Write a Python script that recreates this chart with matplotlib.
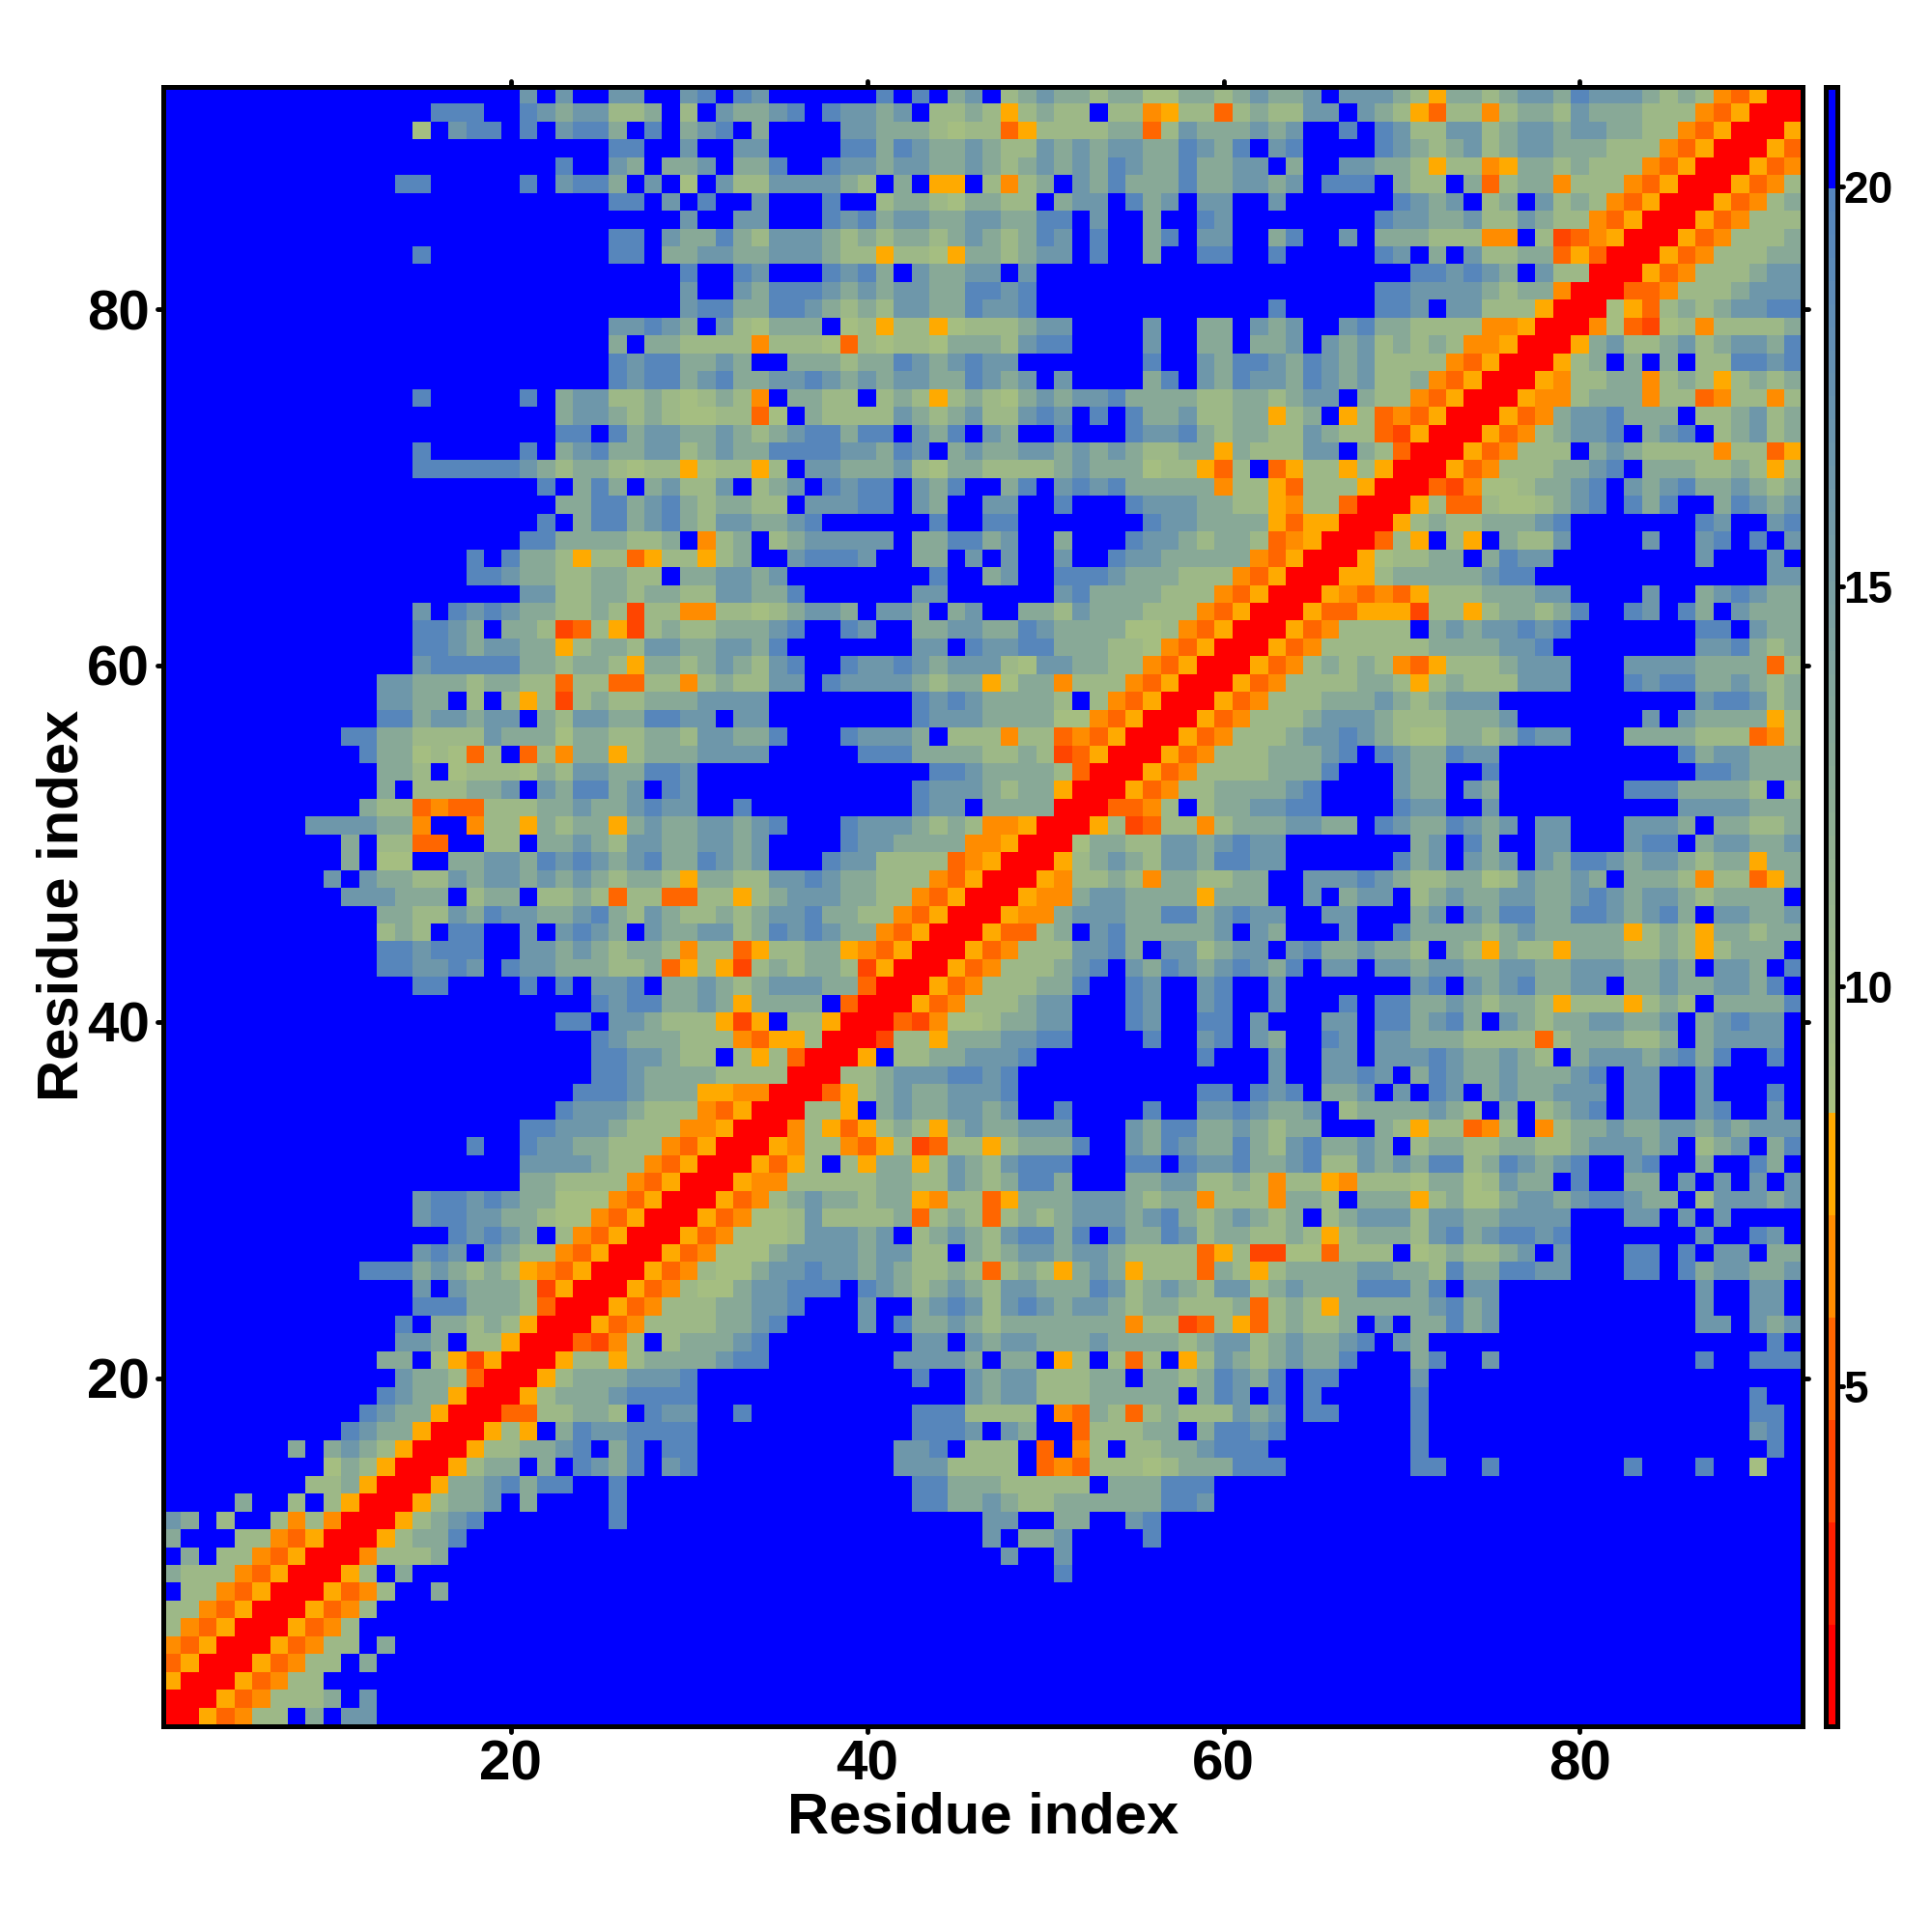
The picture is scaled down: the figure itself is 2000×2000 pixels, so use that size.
import numpy as np
import matplotlib
matplotlib.use('Agg')
import matplotlib.pyplot as plt
from matplotlib.colors import ListedColormap, BoundaryNorm, to_rgb
from matplotlib.markers import MarkerStyle

# distance map, one string per residue, top row of the picture first
# b = above 20, digits = 9 to 19 (greenish to steel blue), a/p/o/d/r = orange to red bands
ROWS = [
"bbbbbbbbbb bbbbbbbbbb 4b4bb44bb4 5b54bbbbbb 5b5b34b234 3323311332 34334b4443 2a33234435 4443232poa rr",
"bbbbbbbbbb bbbbb555bb 54344223b2 b43345b544 34b2232a23 22b22pa22o 232244b432 ao22p23324 333222poar rr",
"bbbbbbbbbb bbbb1b455b 5b4553b5b3 45b3bbbb44 3332122oa2 22233o2433 3434bb5b54 2244234434 43322poarr ra",
"bbbbbbbbbb bbbbbbbbbb bbbbb55bb4 bb44bbbb55 3543343224 3434433543 5b45bbbb54 3234234433 3222poarrr ao",
"bbbbbbbbbb bbbbbbbbbb bb5bb43b33 4b335bb544 3443343234 3435433533 44b3bb4433 2a22pa3323 222poarrra op",
"bbbbbbbbbb bbb55bbbbb 5b4553b4b1 b422444432 b3baab2p23 b435333533 4434b555b3 22b3o233p2 22poarrrao p2",
"bbbbbbbbbb bbbbbbbbbb bbbbb55b4b 5bb4bbb5bb 233213322b 344b534b44 bb4bbbbbb5 434b23b423 2poarrraop 23",
"bbbbbbbbbb bbbbbbbbbb bbbbbbbbb4 bb44bbb545 3443344335 5b4bb3bb54 bbbbbbbb54 4334224322 poarrraop2 22",
"bbbbbbbbbb bbbbbbbbbb bbbbb55b43 3532444323 2332343235 4b5bb35b44 bb35bb4b33 3222ppb2do parrraop22 23",
"bbbbbbbbbb bbbb5bbbbb bbbbb55b33 4433444322 a221a33234 4b5bb3bb55 bb5bbbbb54 b3b42233oa orrraop222 33",
"bbbbbbbbbb bbbbbbbbbb bbbbbbbbb5 bb54bbb545 3b43344b4b bbbbbbbbbb bbbbbbbbbb 554543b422 rrraop2223 44",
"bbbbbbbbbb bbbbbbbbbb bbbbbbbbb4 bb43555434 344335545b bbbbbbbbbb bbbbbbbb55 44443233pr rroop22234 44",
"bbbbbbbbbb bbbbbbbbbb bbbbbbbbb4 5533554323 244335445b bbbbbbbbbb bb5bbbbb55 4b44222arr r1ao232344 55",
"bbbbbbbbbb bbbbbbbbbb bbbbb44543 b421333b12 a22a122234 4bbbb4bb33 b434bb4533 2222pparrr p1od12p222 23",
"bbbbbbbbbb bbbbbbbbbb bbbbb3b332 222p2221o2 1221333245 5bbbb4bb33 b334b43423 232pparrra 3422342344 35",
"bbbbbbbbbb bbbbbbbbbb bbbbb54553 343bb33323 35434544bb bbbbb5bb43 5543543422 22poarrra2 3b3b3b2255 45",
"bbbbbbbbbb bbbbbbbbbb bbbbb54553 4533445434 344335434b 4bbbb35b43 5443543422 3poarrrap2 233p232a23 23",
"bbbbbbbbbb bbbb5bbbbb 5b34422321 232pb3322b 232a232134 3445333322 332344b322 poarrrapp2 333p22op22 p2",
"bbbbbbbbbb bbbbbbbbbb bb34432321 122o1b3222 2432342245 4b5b533422 33a23ba2op oarrraop34 45333b2234 23",
"bbbbbbbbbb bbbbbbbbbb bb55b53443 3432345535 5b435b43bb 5bbb544532 33224322od arrraop234 45b345b234 23",
"bbbbbbbbbb bbbb5bbbbb 5b34533442 3433555544 354b343344 343432233a 322244b32o rrraop222b 3432222p22 oa",
"bbbbbbbbbb bbbb555555 432332122a 122a2b4433 3421332222 34333122ao 2boa22a2ar rraop22233 45b3332232 a2",
"bbbbbbbbbb bbbbbbbbbb b5b353b342 24b234b545 5b435bb35b 454533333p 22ao222arr rodp112334 5b43453343 23",
"bbbbbbbbbb bbbbbbbbbb bb33553453 23322b4445 5b43bb44bb 5bbb544433 22ap22orrr a2oo211234 5b535bb354 34",
"bbbbbbbbbb bbbbbbbbbb b5b3553453 2443345bbb bbb5bb55bb bbbbb54433 33aoaarrra 232233345b bbbbbb54bb 45",
"bbbbbbbbbb bbbbbbbbbb 553333223b p23b234444 4b335534bb 3bbb544323 32oparrro2 ab2ab3224b bbb4bb45b5 b4",
"bbbbbbbbbb bbbbbbb5b5 332a22oa22 a23bb45554 bb33b4b4bb 4bb5443333 3poarrra12 233b3544bb bbbbbb4bbb 4b",
"bbbbbbbbbb bbbbbbb554 33223322b3 34434bbbbb bbb5bb34bb 5554333222 poarrraa23 3333455bbb bbbbbbbbbb 44",
"bbbbbbbbbb bbbbbbbbbb 4422332332 244335bbbb bb44bbbbbb 453333222p oarrrapopo a22233344b bbb4bb3454 33",
"bbbbbbbbbb bbbb4b5454 332232d22p p22123443b 443b34bb33 24333222po arrraooaaa d22a233235 bb54b53b43 33",
"bbbbbbbbbb bbbb5543b3 32do2ad232 233345bb54 bb33443354 3333112poa rrraop2222 b34344545b bbbbbb55b4 33",
"bbbbbbbbbb bbbb554344 33a2332443 34435bbbbb bb44b54455 333221poar rraop22222 23333445bb bbbbbb4453 23",
"bbbbbbbbbb bbbb455555 332332a332 343245bb54 4543444214 43322poarr raop23232p oa2223444b bb44443333 o2",
"bbbbbbbbbb bb44333233 22o22oo22p 232244b544 443233a133 p222poarrr aop2222332 a23222444b bb54553343 23",
"bbbbbbbbbb bb4433b2b2 a2d2322333 4444bbbbbb bb54543333 2b2poarrra op22233343 23444bbbbb bbbbbb4554 23",
"bbbbbbbbbb bb55344344 b324433554 4b44bbbbbb bb54443333 11poarrrao p222344432 223334bbbb bbb4b43333 a2",
"bbbbbbbbbb 5533222243 3313322332 44335bbb54 443b222p22 opoarrraop 2223445432 113323544b bb3333222o p2",
"bbbbbbbbbb b533121o2b o2p33a2333 4444bbbbb5 5533332232 doarrraop2 2233345b54 33544bbbbb bbbbb53443 33",
"bbbbbbbbbb bb332b1222 1324433554 bbbbbbbbbb bbb5543333 2orrraop22 223335bbb4 33bb5bbbbb bbbbbb5543 33",
"bbbbbbbbbb bb3b222334 b435534b54 bbbbbbbbbb bb54443233 arrraop223 33345bbbb4 33b43bbbbb bb55533332 b2",
"bbbbbbbbbb b322opoo22 2334334544 bb5bbbbbbb bb544b3333 rrroop2b23 34455bbbb5 44bb4bbbbb bbbbb44443 33",
"bbbbbbbb44 4433pbbp22 a3233a3433 44345bbb54 443232ppar rra2do22p2 3334433b54 335434b44b bb4443b332 23",
"bbbbbbbbbb 3b22oobb22 b334324433 4434bbbb54 43333pparr r133224434 544bbbbbbb 34b53bb44b bb455b3443 34",
"bbbbbbbbbb 3b11bb3344 3545434533 5434bbb544 2222oparrr a234324435 544bbbbbb5 34b434b435 543443233a 33",
"bbbbbbbbb4 b433224344 343432332a 3322445433 222poarrra p2232p3322 33bb444543 2233124334 3b3332p22o a3",
"bbbbbbbbbb 444333b233 b2232o22oo 22a2344433 22poarrrap p3443333a3 33bb4b344b 2343344334 5434432333 3b",
"bbbbbbbbbb bb33224354 4334532432 2323445332 2poarrrapp 3444335534 544bb44bbb 34b4355335 543453b443 34",
"bbbbbbbbbb bb232b55bb 4b4543b433 4423545433 poarrraoo2 3b45333334 b43bbb4bb5 3333234333 33a232a332 33",
"bbbbbbbbbb bb554555bb 443432332p 22oa2233ap oarrraop22 24453b4423 44b4533433 2b32a322a3 332232a233 3b",
"bbbbbbbbbb bb554454b5 44333223oa 2ad232332d arrraop222 345b435434 5435b44b44 3443344334 443343b443 b5",
"bbbbbbbbbb bbbb55bbbb 5b5b445b33 432344433o rrraop2223 35bb54bb45 bb4bbbbbbb 45b4345334 4b33433443 5b",
"bbbbbbbbbb bbbbbbbbbb bbbb545533 43a3333bor rraop22234 4bbb54bb45 bb4bbb5b55 33432332a2 22a232b333 35",
"bbbbbbbbbb bbbbbbbbbb bb55b44322 2adab22arr rodp112334 4bbb54bb55 b4bbb44b55 3453b43233 44334b3454 4b",
"bbbbbbbbbb bbbbbbbbbb bbbb543332 22poaa2rrr d22a333445 5bbbb5bb45 b43bb54b44 3332222o23 33223b3444 4b",
"bbbbbbbbbb bbbbbbbbbb bbbb554432 2b2a2orrra b22334445b bbbbbbbb5b bb4bb44b44 45433432b3 44434535bb 5b",
"bbbbbbbbbb bbbbbbbbbb bbbb554333 32222rrr22 34445545bb bbbbbbbbbb bb4bb4454b 3543343334 5b44bb4bbb bb",
"bbbbbbbbbb bbbbbbbbbb bbb5554333 aapprrroa2 34334445bb bbbbbbbb55 b545b334b4 b54b343344 4b44bb4bbb 5b",
"bbbbbbbbbb bbbbbbbbbb bb54443222 poarrr22ab 34334434bb 5bbbb5bb44 54334b2333 3432b3b234 5b44bb45bb 4b",
"bbbbbbbbbb bbbbbbbbbb 554443222p parrrp2aoa 232a343344 4bbb435533 43233bbb32 a22op2bp23 3433443434 44",
"bbbbbbbbbb bbbbbbb5bb 54433222po arrrap22po a2do22a233 35bb435433 532453343b 2332233223 44434b234b 35",
"bbbbbbbbbb bbbbbbbbbb 4444322poa rrraoa2b2a 33a2432455 5bbb55b544 5334522434 3552354345 bb45bb3bb5 3b",
"bbbbbbbbbb bbbbbbbbbb 332222poar rrapp22222 3322432355 3bbb334422 32p22ap222 13312433b5 bb33b4b4b4 b4",
"bbbbbbbbbb bbbb455454 33111poarr raop234332 33ap22oa33 34443233p2 22p332b333 a231134434 55433b2444 34",
"bbbbbbbbbb bbbb455443 3211poarrr aop1124222 23o232o232 3444345323 4323b23444 244334444b bb44b4b4bb bb",
"bbbbbbbbbb bbbbbb5454 3b2poarrra op11124443 4b23432455 35b5335423 32232a2333 245345545b bbbbbb4bb5 4b",
"bbbbbbbbbb bbbb454b43 22poarrrao p111344443 4422b32344 34432222oa 2dd11o222b 1232234b4b bb55b5b44b 33",
"bbbbbbbbbb b555343232 apoarrraop 2113445443 432232o232 a343a222o3 2a23333443 325335544b bb55b53443 34",
"bbbbbbbbbb bbbb4b4333 2darrraop2 11344555b5 4323432443 3354234324 4234333555 35b44bbbbb bbbbbb4bb4 4b",
"bbbbbbbbbb bbbb555333 2orrraop22 233445bbb4 bb34542454 3443233222 3o232a3333 34534bbbbb bbbbbb4bb4 4b",
"bbbbbbbbbb bbb5b33232 arrraop222 23345bbbb4 b533432333 3333p22do2 ao23223b4b 33534bbbbb bbbbbb44b4 34",
"bbbbbbbbbb bbb443b22a rrrodp2b23 3345bbbbbb bb44b43443 3343333234 42343345b4 3bbbbbbbbb bbbbbbbbbb 5b",
"bbbbbbbbbb bb33b2adar rra22a2333 3455bbbbbb b44443b33b a2b2o2ba24 3234335bbb 35bb4bbbbb bbbbbb5bb5 55",
"bbbbbbbbbb bbb4332orr ra23334445 bbbbbbbbbb bb5bb43442 2233b33235 435b55bbbb 4bbbbbbbbb bbbbbbbbbb bb",
"bbbbbbbbbb bb5433arrr a233345555 bbbbbbbbbb bbbbb43442 2233333b35 4b5b5bbbbb 5bbbbbbbbb bbbbbbbbb5 bb",
"bbbbbbbbbb b5433arrro o22332b544 bb5bbbbbbb bb5552222b po32o23222 434b55bbbb 5bbbbbbbbb bbbbbbbbb5 5b",
"bbbbbbbbbb 5433arrra2 ab35445555 bbbbbbbbbb bb5554b43b bo22233b35 545bbbbbbb 5bbbbbbbbb bbbbbbbbb4 5b",
"bbbbbbb3b3 432arrra22 3345b35b55 bbbbbbbbbb b445b222bo bp2b223345 55bbbbbbbb 5bbbbbbbbb bbbbbbbbbb 5b",
"bbbbbbbbb1 32arrra233 b3b5435b45 bbbbbbbbbb b4442222bo po22212333 555bbbbbbb 55bb5bbbbb bb5bbb5bb1 bb",
"bbbbbbbb22 3arrra3345 355bb5bbbb bbbbbbbbbb bb55333222 22b333555b",
"bbbb3bb2b2 arrra2334b 3bbbb5bbbb bbbbbbbbbb bb55334322 333333554b",
"43b2bb2p2p rrra2345bb bbbbb5bbbb bbbbbbbbbb bbbbbb44bb 33bb45bbbb",
"3bbb22poar rra2335bbb bbbbbbbbbb bbbbbbbbbb bbbbbb4b33 4bbbb5bbbb",
"b3b22poarr rp2223bbbb bbbbbbbbbb bbbbbbbbbb bbbbbbb4bb 4bbbbbbbbb",
"3222poarrr a2b3bbbbbb bbbbbbbbbb bbbbbbbbbb bbbbbbbbbb 5bbbbbbbbb",
"b22poarrra op2bb3bbbb",
"22poarrrao p2",
"2poarrraop 2",
"poarrraop2 2b3",
"oarrraop22 b3",
"arrraop22b",
"rrraop2223 b4",
"rraop22b3b 44",
]

# distance that each letter stands for
LEVELS = {'r': 1.5, 'd': 4.0, 'o': 5.2, 'p': 6.5, 'a': 7.8,
          '1': 8.9, '2': 10.0, '3': 13.0, '4': 16.5, '5': 19.5, 'b': 21.0}

XY_TICKS = [20, 40, 60, 80]
CBAR_TICKS = [5, 10, 15, 20]
BAND_COLORS = ['#ff0000', '#ff2000', '#ff4500', '#ff6600', '#ff8c00', '#ffaa00']

N = 92
grid = np.zeros((N, N))
for i, row in enumerate(ROWS):
    row = row.replace(' ', '').ljust(N, 'b')[:N]
    grid[i] = [LEVELS[c] for c in row]

# colour scale: 6 flat bands, a ramp from 8.44 to 20, then plain blue
vmin, vmax = 0.755, 21.25
bands = np.linspace(vmin, 8.44, 7)
ramp = np.linspace(8.44, 20, 41)
bounds = np.concatenate([bands, ramp[1:], [vmax]])
c0, c1 = np.array(to_rgb('#a8c080')), np.array(to_rgb('#5585bd'))
ramp_colors = [tuple(c0 + (c1 - c0) * t) for t in np.linspace(0, 1, 40)]
cmap = ListedColormap(BAND_COLORS + ramp_colors + ['#0000ff'])
norm = BoundaryNorm(bounds, cmap.N)

plt.rcParams['font.family'] = ['Liberation Sans', 'DejaVu Sans']
plt.rcParams['font.weight'] = 'bold'

W = 2000.0
fig = plt.figure(figsize=(20, 20), dpi=100)
ax = fig.add_axes([169 / W, 1 - 1786.5 / W, (1866 - 169) / W, (1786.5 - 89.5) / W])
im = ax.imshow(grid[::-1], origin='lower', extent=[0.5, N + 0.5, 0.5, N + 0.5],
               cmap=cmap, norm=norm, interpolation='nearest', aspect='auto')

ax.set_xticks(XY_TICKS)
ax.set_yticks(XY_TICKS)
ax.tick_params(axis='both', direction='out', length=4, width=3.5, top=True, right=True,
               labelsize=42, pad=6)
for s in ax.spines.values():
    s.set_linewidth(3.6)
ax.set_xlabel('Residue index', fontsize=43, fontweight='bold')
ax.set_ylabel('Residue index', fontsize=43, fontweight='bold')
ax.xaxis.set_label_coords((1018 - 169) / 1697, -(1882 - 1786.5) / 1697, transform=ax.transAxes)
ax.xaxis.label.set_va('center')
ax.yaxis.set_label_coords(-(169 - 65) / 1697, (1786.5 - 937) / 1697, transform=ax.transAxes)
ax.yaxis.label.set_va('center')

cax = fig.add_axes([1889.5 / W, 1 - 1786.5 / W, 12 / W, (1786.5 - 89.5) / W])
cbar = fig.colorbar(im, cax=cax, spacing='proportional', ticks=CBAR_TICKS, drawedges=False)
cbar.solids.set_edgecolor('face')
cbar.outline.set_linewidth(3.6)
cbar.ax.minorticks_off()
cax.tick_params(axis='y', direction='out', length=4, width=3.5, labelsize=33, pad=1)

# rounded tick ends like the original
for axis in [ax.xaxis, ax.yaxis, cax.yaxis]:
    for t in axis.get_major_ticks():
        for line in [t.tick1line, t.tick2line]:
            line.set_marker(MarkerStyle(line.get_marker(), capstyle='round'))

fig.savefig('out.png', dpi=100, facecolor='white')
